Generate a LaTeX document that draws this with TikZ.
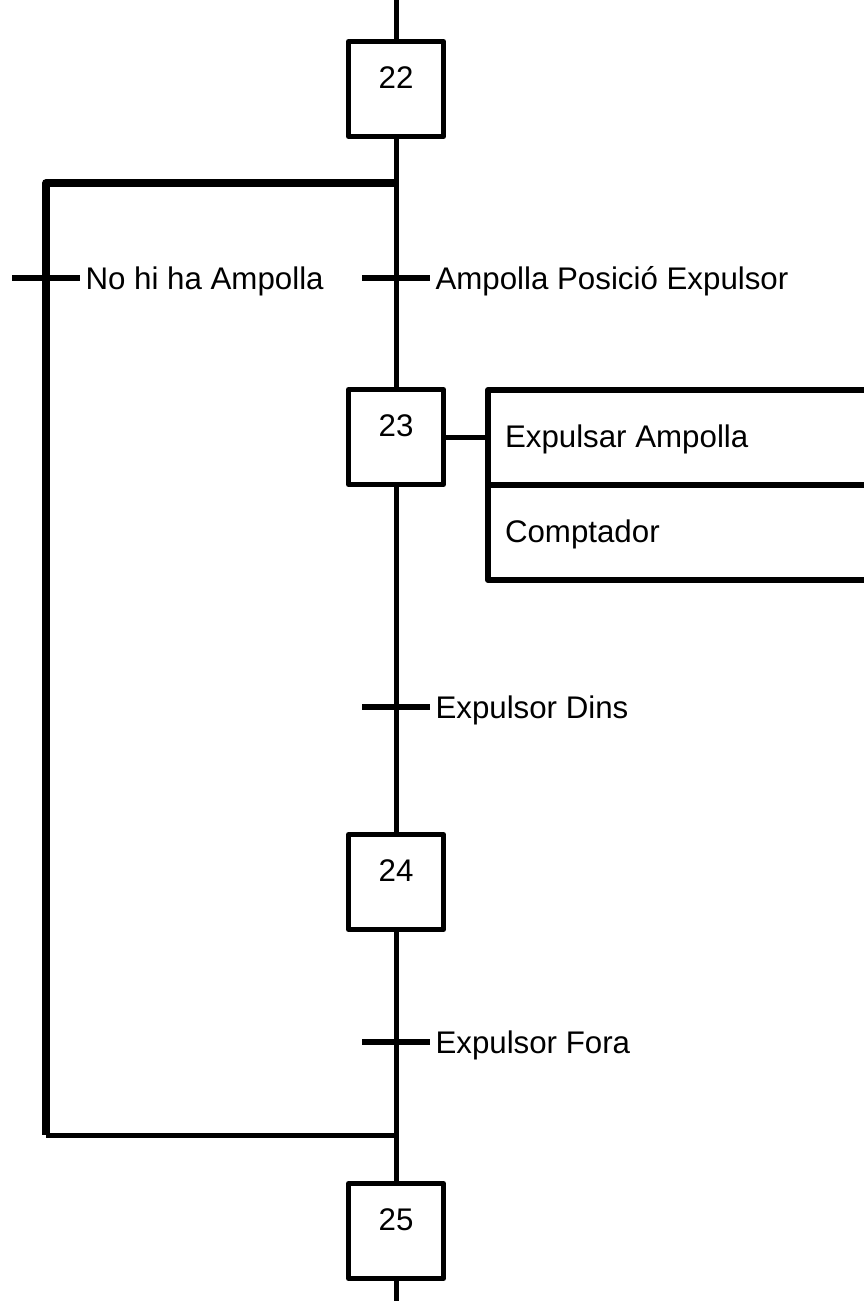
\documentclass[tikz,border=0pt]{standalone}
\usepackage{fontspec}
\setmainfont{Liberation Sans}
\usetikzlibrary{positioning}

\begin{document}
\begin{tikzpicture}[x=0.02cm, y=-0.02cm, line width=0.1cm, line join=round,
  font=\fontsize{17.8}{21}\selectfont]
\tikzset{
  etape/.style={draw, minimum size=1.9cm, inner sep=0pt, text height=0.5cm, text depth=0.54cm},
  accio/.style={draw, anchor=north west, outer sep=0pt, minimum width=8.24cm, minimum height=1.9cm, inner xsep=0.34cm, inner ysep=0pt, text width=7.56cm, align=flush left, text height=0.6cm, text depth=0.2cm, line width=0.12cm},
  receptivitat/.style={anchor=base west, inner sep=0pt},
  tick/.style={line width=0.12cm},
  branca/.style={line width=0.15cm}
}
\clip (0,0) rectangle (864,1301);

% Steps
\node[etape] (s22) at (396,89) {22};
\node[etape] (s23) at (396,437) {23};
\node[etape] (s24) at (396,882) {24};
\node[etape] (s25) at (396,1231) {25};

% Actions of step 23
\node[accio] (act1) at (488,390) {Expulsar Ampolla};
\node[accio, below=0pt of act1] (act2) {Comptador};

% Divergence / convergence points
\coordinate (top) at (396,0);
\coordinate (bottom) at (396,1301);
\coordinate (div) at (396,183);
\coordinate (conv) at (396,1135);
\coordinate (t0) at (46,278);
\coordinate (t1) at (396,278);
\coordinate (t2) at (396,707);
\coordinate (t3) at (396,1042);

% Main line
\draw (top) -- (s22);
\draw (s22) -- (s23);
\draw (s23) -- (s24);
\draw (s24) -- (s25);
\draw (s25) -- (bottom);
\draw (s23.east) -- (s23.east -| act1.west);

% Skip branch
\draw[branca] (div) -| (conv -| t0);
\draw (conv -| t0) -- (conv);

% Transitions
\draw[tick] (t0) ++(-34,0) -- ++(68,0);
\draw[tick] (t1) ++(-34,0) -- ++(68,0);
\draw[tick] (t2) ++(-34,0) -- ++(68,0);
\draw[tick] (t3) ++(-34,0) -- ++(68,0);
\path (t0) ++(37,11) node[receptivitat] (r0) {No hi ha Ampolla};
\path (t1) ++(37,11) node[receptivitat] (r1) {Ampolla Posició Expulsor};
\path (t2) ++(37,11) node[receptivitat] (r2) {Expulsor Dins};
\path (t3) ++(37,11) node[receptivitat] (r3) {Expulsor Fora};
\end{tikzpicture}
\end{document}
